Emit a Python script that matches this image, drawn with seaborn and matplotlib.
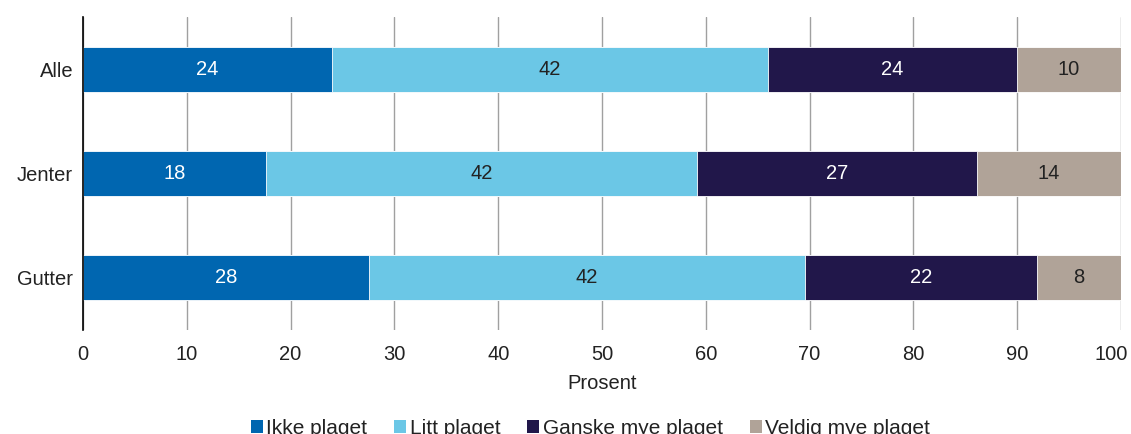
import numpy as np
import pandas as pd
import matplotlib
matplotlib.use("Agg")
import matplotlib.pyplot as plt
import matplotlib.transforms as mtransforms
import seaborn as sns
from matplotlib.patches import Patch

groups = ["Alle", "Jenter", "Gutter"]
series = ["Ikke plaget", "Litt plaget", "Ganske mye plaget", "Veldig mye plaget"]
ikke = [24.0, 17.6, 27.55]
litt = [42.0, 41.55, 42.0]
ganske = [24.0, 26.95, 22.35]
veldig = [10.0, 13.9, 8.1]
colors = ["#0066b0", "#6bc7e6", "#21174a", "#b0a398"]
text_colors = ["white", "#222222", "white", "#222222"]
xticks = [0, 10, 20, 30, 40, 50, 60, 70, 80, 90, 100]

sns.set_theme(style="white")
plt.rcParams["font.family"] = ["Liberation Sans", "DejaVu Sans"]
FS = 14.5

df = pd.DataFrame({"gruppe": groups, series[0]: ikke, series[1]: litt,
                   series[2]: ganske, series[3]: veldig})
cum = df[series].cumsum(axis=1)

fig = plt.figure(figsize=(11.31, 4.34), dpi=100)
ax = fig.add_axes([83 / 1131, 1 - 330 / 434, (1121 - 83) / 1131, (330 - 17) / 434])

# stacked bars: draw cumulative totals from the outermost segment inwards
for i in range(len(series) - 1, -1, -1):
    sns.barplot(x=cum[series[i]], y=df["gruppe"], color=colors[i], orient="h",
                width=0.43, ax=ax, edgecolor="white", linewidth=0.6, saturation=1)

for i, s in enumerate(series):
    starts = cum[s] - df[s]
    for j, (st, v) in enumerate(zip(starts, df[s])):
        ax.text(st + v / 2, j, f"{v:.0f}", ha="center", va="center",
                color=text_colors[i], fontsize=FS)

ax.set_xlim(0, 100)
ax.set_ylim(2.5, -0.5)
ax.set_xticks(xticks)
ax.set_xticklabels([str(t) for t in xticks])
ax.tick_params(axis="x", labelsize=FS, length=0, pad=11, colors="#222222")
ax.tick_params(axis="y", labelsize=FS, length=0, pad=7, colors="#222222")
# keep the last tick label inside the figure edge
last = ax.get_xticklabels()[-1]
last.set_transform(last.get_transform() +
                   mtransforms.ScaledTranslation(-10 / 100, 0, fig.dpi_scale_trans))
ax.set_ylabel("")
ax.set_xlabel("Prosent", fontsize=FS, color="#222222", labelpad=7)
ax.xaxis.grid(True, color="#a0a0a0", linewidth=1)
ax.set_axisbelow(True)
for side in ["top", "right", "bottom"]:
    ax.spines[side].set_visible(False)
ax.spines["left"].set_color("black")
ax.spines["left"].set_linewidth(1.2)

handles = [Patch(facecolor=c, edgecolor="none") for c in colors]
fig.legend(handles, series, loc="upper center", bbox_to_anchor=(0.522, 0.078),
           ncol=4, frameon=False, fontsize=15, handlelength=0.58, handleheight=0.58,
           handletextpad=0.15, columnspacing=1.3, labelcolor="#222222")

fig.savefig("out.png", dpi=100)
